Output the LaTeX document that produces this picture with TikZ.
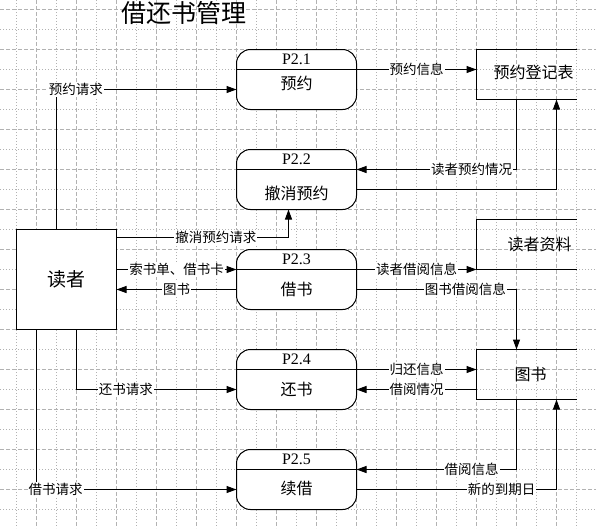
\documentclass[tikz,border=0pt]{standalone}
\usepackage{fontspec}
\setmainfont{Noto Sans CJK SC}
\newfontfamily\idfont{Liberation Serif}
\usetikzlibrary{shapes,arrows.meta,positioning,calc}

\begin{document}
\begin{tikzpicture}[x=1pt, y=-1pt, line width=1pt,
    every node/.style={font=\fontsize{13.5}{16}\selectfont, outer sep=0pt},
    proc/.style={rectangle, draw, fill=white, rounded corners=14pt, minimum width=120pt, minimum height=60pt,
        path picture={\draw ([yshift=-20pt]path picture bounding box.north west) -- ([yshift=-20pt]path picture bounding box.north east);}},
    pid/.style={anchor=center, font=\idfont\fontsize{16}{18}\selectfont},
    ptext/.style={anchor=center, font=\fontsize{16}{18}\selectfont},
    store/.style={rectangle, minimum width=100pt, minimum height=50pt},
    storelab/.style={font=\fontsize{16}{18}\selectfont},
    ent/.style={rectangle, draw, fill=white, minimum size=100pt, font=\fontsize{19}{22}\selectfont},
    flow/.style={-{Triangle[length=10pt,width=7pt]}},
    lab/.style={fill=white, inner sep=1pt},
    gdash/.style={draw=black!30, line width=0.6pt, dash pattern=on 4pt off 2pt},
    gdot/.style={draw=black!30, line width=0.6pt, dash pattern=on 1pt off 2pt}]
    \useasboundingbox (0,0) rectangle (596,528);
    % grid
    \foreach \x in {36.5,76.5,...,556.5} \draw[gdash] (\x,0) -- (\x,528);
    \foreach \x in {16.5,56.5,...,576.5} \draw[gdot] (\x,0) -- (\x,528);
    \foreach \y in {9.5,49.5,...,489.5} \draw[gdash] (0,\y) -- (596,\y);
    \foreach \y in {29.5,69.5,...,509.5} \draw[gdot] (0,\y) -- (596,\y);

    \node[font=\fontsize{25}{28}\selectfont] (title) at (184,13) {借还书管理};

    % processes
    \node[proc] (yuyue) at (296.5,79.5) {};
    \node[proc, below=40pt of yuyue] (chexiao) {};
    \node[proc, below=40pt of chexiao] (jieshu) {};
    \node[proc, below=40pt of jieshu] (huanshu) {};
    \node[proc, below=40pt of huanshu] (xujie) {};
    \node[pid] (yuyue-id) at ([yshift=-10pt]yuyue.north) {P2.1};
    \node[pid] (chexiao-id) at ([yshift=-10pt]chexiao.north) {P2.2};
    \node[pid] (jieshu-id) at ([yshift=-10pt]jieshu.north) {P2.3};
    \node[pid] (huanshu-id) at ([yshift=-10pt]huanshu.north) {P2.4};
    \node[pid] (xujie-id) at ([yshift=-10pt]xujie.north) {P2.5};
    \node[ptext] (yuyue-t) at ([yshift=-4pt]yuyue.center) {预约};
    \node[ptext] (chexiao-t) at ([yshift=-14pt]chexiao.center) {撤消预约};
    \node[ptext] (jieshu-t) at ([yshift=-10pt]jieshu.center) {借书};
    \node[ptext] (huanshu-t) at ([yshift=-10pt]huanshu.center) {还书};
    \node[ptext] (xujie-t) at ([yshift=-9pt]xujie.center) {续借};

    % reader and data stores
    \node[ent, left=120pt of jieshu] (reader) {读者};
    \node[store, right=120pt of yuyue.north east, anchor=north west,
        label={[storelab, xshift=7pt, yshift=2pt]center:预约登记表}] (reg) {};
    \node[store, label={[storelab, xshift=13pt]center:读者资料}] (rdata) at (526.5,244.5) {};
    \node[store, right=120pt of huanshu.north east, anchor=north west,
        label={[storelab, xshift=4pt]center:图书}] (books) {};
    \draw (reg.north east) -- (reg.north west) -- (reg.south west) -- (reg.south east);
    \draw (rdata.north east) -- (rdata.north west) -- (rdata.south west) -- (rdata.south east);
    \draw (books.north east) -- (books.north west) -- (books.south west) -- (books.south east);

    % flows
    \draw[flow] ([xshift=-10pt]reader.north) |- node[lab, pos=0.554] {预约请求} ([yshift=-10pt]yuyue.west);
    \draw[flow] ([yshift=10pt]yuyue.east) -- node[lab] {预约信息} ([yshift=-20pt]reg.north west);
    \draw[flow] ([xshift=-10pt]reg.south) |- node[lab, pos=0.64] {读者预约情况} ([yshift=10pt]chexiao.east);
    \draw[flow] ([yshift=-10pt]chexiao.east) -| ([xshift=30pt]reg.south);
    \draw[flow] ([yshift=-8pt]reader.north east) -| node[lab, pos=0.289] {撤消预约请求} ([xshift=-8pt]chexiao.south);
    \draw[flow] ([yshift=10pt]reader.east) -- node[lab] {索书单、借书卡} ([yshift=10pt]jieshu.west);
    \draw[flow] ([yshift=-10pt]jieshu.west) -- node[lab] {图书} ([yshift=-10pt]reader.east);
    \draw[flow] ([yshift=10pt]jieshu.east) -- node[lab] {读者借阅信息} (rdata.south west);
    \draw[flow] ([yshift=-10pt]jieshu.east) -| node[lab, pos=0.34] {图书借阅信息} ([xshift=-10pt]books.north);
    \draw[flow] ([xshift=10pt]reader.south) |- node[lab, pos=0.654] {还书请求} ([yshift=-10pt]huanshu.west);
    \draw[flow] ([xshift=-30pt]reader.south) |- node[lab, pos=0.548] {借书请求} ([yshift=-10pt]xujie.west);
    \draw[flow] ([yshift=10pt]huanshu.east) -- node[lab] {归还信息} ([yshift=-20pt]books.north west);
    \draw[flow] ([yshift=-40pt]books.north west) -- node[lab] {借阅情况} ([yshift=-10pt]huanshu.east);
    \draw[flow] ([xshift=-10pt]books.south) |- node[lab, pos=0.64] {借阅信息} ([yshift=10pt]xujie.east);
    \draw[flow] ([yshift=-10pt]xujie.east) -| node[lab, pos=0.363] {新的到期日} ([xshift=30pt]books.south);
\end{tikzpicture}
\end{document}
